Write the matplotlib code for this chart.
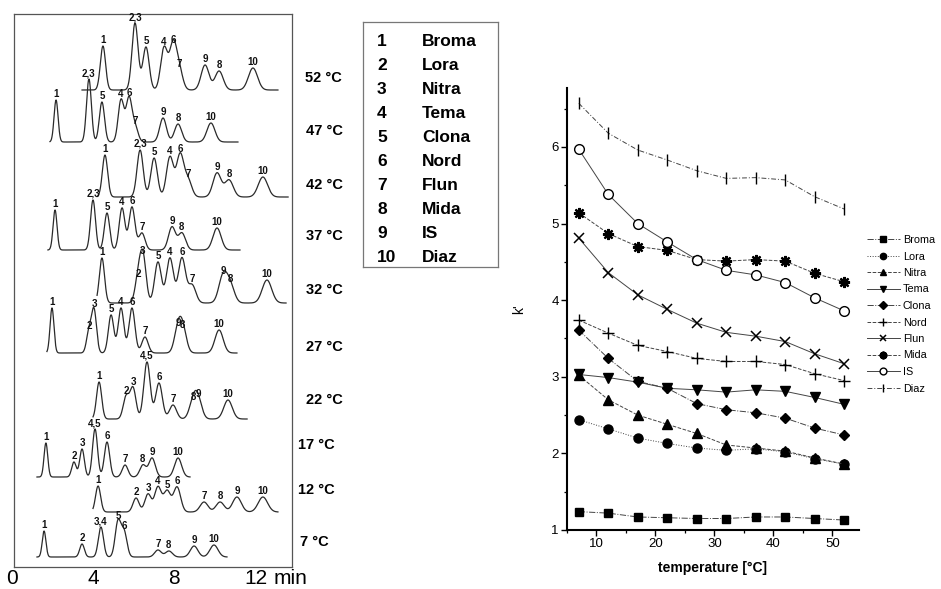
import numpy as np
import matplotlib.pyplot as plt
from matplotlib.ticker import MultipleLocator

plt.rcParams['font.family'] = ['Liberation Sans', 'DejaVu Sans']

W, H = 941, 589

# ---- chromatograms (top trace = 52 °C), times in min, heights in signal units
chrom_temps = [52, 47, 42, 37, 32, 27, 22, 17, 12, 7]
run_start = [3.45, 1.87, 4.19, 1.77, 4.19, 1.72, 3.99, 1.23, 3.99, 1.23]
run_end = [13.10, 11.13, 13.60, 11.23, 13.50, 11.08, 11.58, 8.77, 13.10, 10.59]

peak_times = [
    [4.48, 6.06, 6.60, 7.49, 7.93, 8.23, 9.51, 10.20, 11.87],
    [2.17, 3.79, 4.43, 5.37, 5.76, 6.06, 7.44, 8.18, 9.80],
    [4.58, 6.31, 7.00, 7.78, 8.28, 8.67, 10.10, 10.69, 12.36],
    [2.12, 3.99, 4.68, 5.42, 5.91, 6.40, 7.88, 8.37, 10.10],
    [4.43, 6.21, 6.45, 7.19, 7.78, 8.37, 8.87, 10.39, 10.74, 12.56],
    [1.97, 3.79, 4.04, 4.88, 5.37, 5.91, 6.55, 8.18, 8.42, 10.20],
    [4.29, 5.62, 5.96, 6.65, 7.24, 7.93, 8.92, 9.16, 10.64],
    [1.67, 3.05, 3.45, 4.09, 4.68, 5.57, 6.45, 6.90, 8.18],
    [4.24, 6.11, 6.70, 7.19, 7.64, 8.13, 9.46, 10.25, 11.08, 12.36],
    [1.58, 3.45, 4.38, 5.22, 5.52, 7.19, 7.73, 8.97, 9.95],
]
peak_heights = [
    [44, 67, 43, 42, 44, 20, 25, 19, 22],
    [42, 63, 40, 42, 43, 15, 24, 18, 19],
    [42, 47, 39, 40, 42, 17, 24, 17, 20],
    [40, 50, 37, 42, 43, 17, 23, 17, 22],
    [45, 23, 46, 41, 45, 45, 18, 26, 18, 23],
    [45, 21, 43, 38, 45, 45, 16, 24, 22, 23],
    [37, 22, 31, 57, 36, 14, 16, 19, 19],
    [34, 15, 28, 48, 35, 12, 12, 19, 19],
    [26, 14, 18, 25, 21, 25, 10, 10, 15, 15],
    [26, 13, 30, 35, 25, 7, 6, 11, 12],
]
peak_labels = [
    ['1', '2,3', '5', '4', '6', '7', '9', '8', '10'],
    ['1', '2,3', '5', '4', '6', '7', '9', '8', '10'],
    ['1', '2,3', '5', '4', '6', '7', '9', '8', '10'],
    ['1', '2,3', '5', '4', '6', '7', '9', '8', '10'],
    ['1', '2', '3', '5', '4', '6', '7', '9', '8', '10'],
    ['1', '2', '3', '5', '4', '6', '7', '9', '8', '10'],
    ['1', '2', '3', '4,5', '6', '7', '8', '9', '10'],
    ['1', '2', '3', '4,5', '6', '7', '8', '9', '10'],
    ['1', '2', '3', '4', '5', '6', '7', '8', '9', '10'],
    ['1', '2', '3,4', '5', '6', '7', '8', '9', '10'],
]
time_ticks = [0, 4, 8, 12]

# ---- key
key_num = ['1', '2', '3', '4', '5', '6', '7', '8', '9', '10']
key_name = ['Broma', 'Lora', 'Nitra', 'Tema', 'Clona', 'Nord', 'Flun', 'Mida', 'IS', 'Diaz']

# ---- k' vs temperature
temperature = [7, 12, 17, 22, 27, 32, 37, 42, 47, 52]
k_broma = [1.24, 1.22, 1.17, 1.16, 1.15, 1.15, 1.17, 1.17, 1.15, 1.13]
k_lora = [2.44, 2.32, 2.20, 2.13, 2.07, 2.04, 2.06, 2.02, 1.93, 1.86]
k_nitra = [3.02, 2.70, 2.50, 2.38, 2.26, 2.11, 2.07, 2.03, 1.94, 1.86]
k_tema = [3.03, 2.99, 2.93, 2.85, 2.83, 2.80, 2.83, 2.81, 2.73, 2.64]
k_clona = [3.61, 3.24, 2.94, 2.85, 2.65, 2.57, 2.53, 2.46, 2.33, 2.24]
k_nord = [3.74, 3.57, 3.41, 3.33, 3.24, 3.20, 3.20, 3.16, 3.04, 2.95]
k_flun = [4.81, 4.36, 4.07, 3.88, 3.70, 3.58, 3.53, 3.46, 3.30, 3.17]
k_mida = [5.14, 4.87, 4.70, 4.65, 4.53, 4.51, 4.53, 4.51, 4.35, 4.24]
k_is = [5.97, 5.38, 5.00, 4.76, 4.53, 4.39, 4.33, 4.23, 4.03, 3.86]
k_diaz = [6.57, 6.18, 5.96, 5.83, 5.69, 5.59, 5.60, 5.57, 5.35, 5.19]

# layout (pixels from bottom of figure)
baselines = [499, 447, 392, 339, 286, 236, 170, 112, 77, 32]
temp_lab_x = [323, 324, 324, 324, 324, 324, 324, 316, 316, 314]
temp_lab_y = [511, 458, 404, 353, 299, 242, 189, 144, 99, 47]

fig = plt.figure(figsize=(W / 100, H / 100), dpi=100)

# ---------------- chromatogram panel
px0, px_per_min = 12, 20.3
box_l, box_r, box_b, box_t = 14, 292, 22, 575
axc = fig.add_axes([box_l / W, box_b / H, (box_r - box_l) / W, (box_t - box_b) / H])
axc.set_xlim((box_l - px0) / px_per_min, (box_r - px0) / px_per_min)
axc.set_ylim(box_b, box_t)
axc.set_xticks([])
axc.set_yticks([])
for s in axc.spines.values():
    s.set_linewidth(0.9)
    s.set_color('#555555')

for i in range(len(chrom_temps)):
    t = np.linspace(run_start[i], run_end[i], 1500)
    y = np.full_like(t, float(baselines[i]))
    for tp, hp in zip(peak_times[i], peak_heights[i]):
        sig = 0.07 + 0.013 * tp
        y += hp * np.exp(-0.5 * ((t - tp) / sig) ** 2)
    axc.plot(t, y, color='#2a2a2a', lw=0.9)
    for tp, hp, lab in zip(peak_times[i], peak_heights[i], peak_labels[i]):
        axc.text(tp, baselines[i] + hp + 1, lab, ha='center', va='bottom',
                 fontsize=7, fontweight='bold', color='#111111')
    fig.text(temp_lab_x[i] / W, temp_lab_y[i] / H, f'{chrom_temps[i]} °C',
             ha='center', va='center', fontsize=10.5, fontweight='bold')

for tk in time_ticks:
    axc.text(tk, 11, str(tk), ha='center', va='center', fontsize=15, clip_on=False)
axc.text(13.7, 11, 'min', ha='center', va='center', fontsize=15, clip_on=False)

# ---------------- key box
axk = fig.add_axes([363 / W, (H - 267) / H, 135 / W, 245 / H])
axk.set_xticks([])
axk.set_yticks([])
for s in axk.spines.values():
    s.set_linewidth(0.9)
    s.set_color('#777777')
axk.set_xlim(363, 498)
axk.set_ylim(267, 22)
for j, (n, nm) in enumerate(zip(key_num, key_name)):
    yy = 42 + j * 23.9
    axk.text(377, yy, n, ha='left', va='center', fontsize=12.5, fontweight='bold')
    axk.text(422, yy, nm, ha='left', va='center', fontsize=12.5, fontweight='bold')

# ---------------- k' plot
ax = fig.add_axes([567 / W, (H - 530) / H, (859 - 567) / W, (530 - 88) / H])
series = [
    (k_broma, 's', 5.5, 'k', '-.', 1.0),
    (k_lora, 'o', 6.5, 'k', ':', 1.0),
    (k_nitra, '^', 7, 'k', '--', 1.0),
    (k_tema, 'v', 7, 'k', '-', 1.0),
    (k_clona, 'D', 5.5, 'k', '-.', 1.0),
    (k_nord, '+', 8, 'k', '--', 1.0),
    (k_flun, 'x', 7, 'k', '-', 1.1),
    (k_mida, (8, 2, 0), 8, 'k', '--', 1.6),
    (k_is, 'o', 7, 'white', '-', 1.0),
    (k_diaz, '|', 8, 'k', (0, (5, 2, 1, 2)), 1.0),
]
for (vals, mk, ms, mfc, ls, mew), nm in zip(series, key_name):
    ax.plot(temperature, vals, color='#444444', lw=0.7, ls=ls, marker=mk,
            ms=ms, mfc=mfc, mec='k', mew=mew, label=nm)

ax.set_xlim(5, 54.5)
ax.set_ylim(1, 6.77)
ax.xaxis.set_major_locator(MultipleLocator(10))
ax.xaxis.set_minor_locator(MultipleLocator(5))
ax.yaxis.set_major_locator(MultipleLocator(1))
ax.yaxis.set_minor_locator(MultipleLocator(0.5))
ax.tick_params(which='major', direction='out', length=4, width=1, labelsize=9.5, pad=2)
ax.tick_params(which='minor', direction='out', length=2.5, width=0.9)
ax.spines['top'].set_visible(False)
ax.spines['right'].set_visible(False)
ax.spines['left'].set_linewidth(1.5)
ax.spines['bottom'].set_linewidth(1.5)
ax.set_xlabel('temperature [°C]', fontsize=10, fontweight='bold', labelpad=8)
ax.set_ylabel("k'", fontsize=10, labelpad=18)

ax.legend(loc='upper left', bbox_to_anchor=(867 / W, (H - 235) / H),
          bbox_transform=fig.transFigure, frameon=False, fontsize=7.8,
          handlelength=3.0, handletextpad=0.3, labelspacing=0.6,
          borderpad=0, borderaxespad=0, markerscale=0.7)

fig.savefig('out.png', dpi=100)
